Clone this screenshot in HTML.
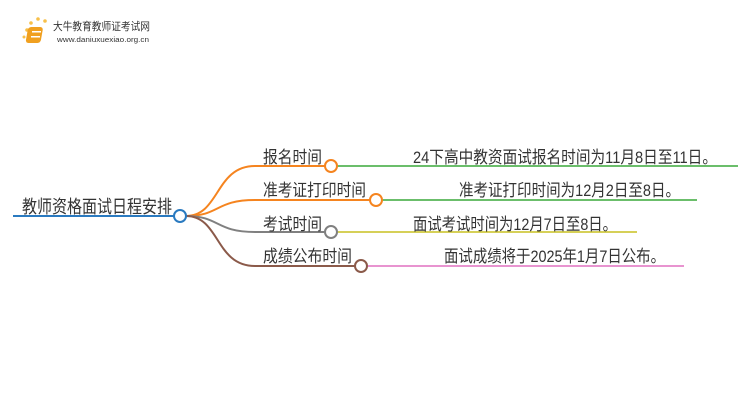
<!DOCTYPE html>
<html><head><meta charset="utf-8"><style>body{margin:0;background:#fff}svg{display:block}text{font-family:"Liberation Sans","Noto Sans CJK SC",sans-serif;fill:#333}</style></head><body>
<svg width="750" height="410" viewBox="0 0 750 410">
<g>
<circle cx="27" cy="30" r="1.8" fill="#f7c04a"/><circle cx="31" cy="23" r="1.8" fill="#f7c04a"/><circle cx="38" cy="19" r="1.8" fill="#f7c04a"/><circle cx="45" cy="21" r="1.8" fill="#f7c04a"/><circle cx="24" cy="37" r="1.5" fill="#f7c04a"/>
<rect x="33" y="27" width="15" height="16" rx="3" fill="#f0a020" transform="skewX(-10)"/>
<rect x="32" y="31" width="9" height="1.5" fill="#fff"/><rect x="31" y="36" width="9" height="1.5" fill="#fff"/>
<text x="53" y="30" font-size="11" fill="#333" textLength="97" lengthAdjust="spacingAndGlyphs">大牛教育教师证考试网</text>
<text x="57" y="42" font-size="7" fill="#777" textLength="92" lengthAdjust="spacingAndGlyphs">www.daniuxuexiao.org.cn</text>
</g>
<g fill="none" stroke-width="2">
<path d="M13 216 H180" stroke="#2a7ac0"/>
<path d="M186 216 C220 216 215 166 255 166 H325" stroke="#f5841f"/>
<path d="M186 216 C220 216 215 200 255 200 H370" stroke="#f5841f"/>
<path d="M186 216 C220 216 215 232 255 232 H325" stroke="#808080"/>
<path d="M186 216 C220 216 215 266 255 266 H355" stroke="#8b5a4a"/>
<path d="M337 166 H738" stroke="#3aa83a" stroke-width="1.5"/>
<path d="M382 200 H697" stroke="#3aa83a" stroke-width="1.5"/>
<path d="M337 232 H637" stroke="#c8c020" stroke-width="1.5"/>
<path d="M367 266 H684" stroke="#e070c0" stroke-width="1.5"/>
<circle cx="180" cy="216" r="6" stroke="#2a7ac0" fill="#fff"/>
<circle cx="331" cy="166" r="6" stroke="#f5841f" fill="#fff"/>
<circle cx="376" cy="200" r="6" stroke="#f5841f" fill="#fff"/>
<circle cx="331" cy="232" r="6" stroke="#808080" fill="#fff"/>
<circle cx="361" cy="266" r="6" stroke="#8b5a4a" fill="#fff"/>
</g>
<text x="22" y="213" font-size="18" textLength="150" lengthAdjust="spacingAndGlyphs">教师资格面试日程安排</text>
<text x="263" y="163" font-size="17" textLength="59" lengthAdjust="spacingAndGlyphs">报名时间</text>
<text x="263" y="196" font-size="17" textLength="103" lengthAdjust="spacingAndGlyphs">准考证打印时间</text>
<text x="263" y="230" font-size="17" textLength="59" lengthAdjust="spacingAndGlyphs">考试时间</text>
<text x="263" y="262" font-size="17" textLength="89" lengthAdjust="spacingAndGlyphs">成绩公布时间</text>
<text x="413" y="163" font-size="17" textLength="304" lengthAdjust="spacingAndGlyphs">24下高中教资面试报名时间为11月8日至11日。</text>
<text x="459" y="196" font-size="17" textLength="221" lengthAdjust="spacingAndGlyphs">准考证打印时间为12月2日至8日。</text>
<text x="413" y="230" font-size="17" textLength="204" lengthAdjust="spacingAndGlyphs">面试考试时间为12月7日至8日。</text>
<text x="444" y="262" font-size="17" textLength="221" lengthAdjust="spacingAndGlyphs">面试成绩将于2025年1月7日公布。</text>
</svg>
</body></html>
